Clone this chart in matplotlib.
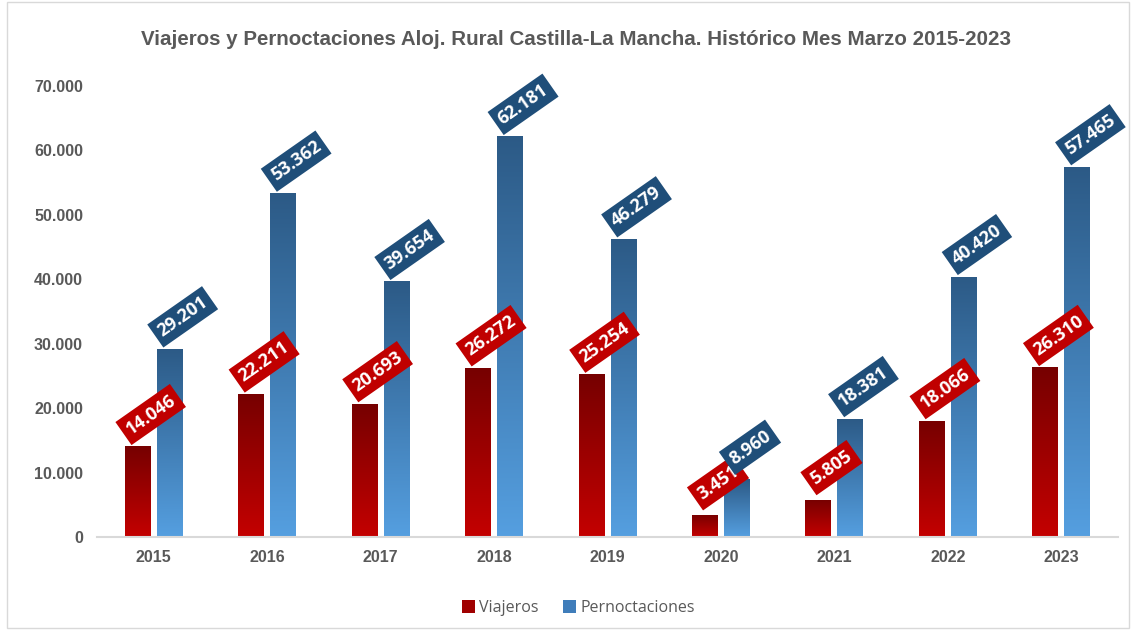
import matplotlib
matplotlib.use("Agg")
import matplotlib.pyplot as plt
import numpy as np
from matplotlib.colors import LinearSegmentedColormap
from matplotlib.patches import Rectangle, Patch

# Datos
anios = ["2015", "2016", "2017", "2018", "2019", "2020", "2021", "2022", "2023"]
viajeros = [14046, 22211, 20693, 26272, 25254, 3451, 5805, 18066, 26310]
pernoctaciones = [29201, 53362, 39654, 62181, 46279, 8960, 18381, 40420, 57465]

titulo = "Viajeros y Pernoctaciones Aloj. Rural Castilla-La Mancha. Histórico Mes Marzo 2015-2023"

gris = "#595959"
rojo_caja = "#C00000"
azul_caja = "#1F4E79"
cmap_rojo = LinearSegmentedColormap.from_list("rojo", ["#C40000", "#760000"])
cmap_azul = LinearSegmentedColormap.from_list("azul", ["#559FE0", "#2C5A86"])

def miles(v):
    return f"{v:,.0f}".replace(",", ".")

fig = plt.figure(figsize=(11.34, 6.3), dpi=100)
ax = fig.add_axes([0.0855, 0.1476, 0.9005, 0.716])

# borde del gráfico
fig.patches.append(Rectangle((0.006, 0.003), 0.99, 0.994, transform=fig.transFigure,
                             fill=False, edgecolor="#D9D9D9", linewidth=1))

x = np.arange(len(anios))
ancho = 0.229
desp = 0.141

grad = np.linspace(0, 1, 256).reshape(-1, 1)

def barras_gradiente(pos, valores, cmap):
    barras = ax.bar(pos, valores, width=ancho, color="none", edgecolor="none", zorder=2)
    for b in barras:
        x0, y0 = b.get_x(), b.get_y()
        im = ax.imshow(grad, extent=[x0, x0 + b.get_width(), y0, y0 + b.get_height()],
                       origin="lower", aspect="auto", cmap=cmap, zorder=2)
        im.set_clip_path(b)
    return barras

b1 = barras_gradiente(x - desp, viajeros, cmap_rojo)
b2 = barras_gradiente(x + desp, pernoctaciones, cmap_azul)

def etiquetas(barras, valores, color):
    for b, v in zip(barras, valores):
        ax.annotate(miles(v), (b.get_x() + b.get_width() / 2, v),
                    xytext=(13, 32), textcoords="offset pixels",
                    ha="center", va="center", rotation=35, rotation_mode="anchor",
                    color="white", fontsize=13, fontweight="bold", family="Open Sans",
                    bbox=dict(boxstyle="square,pad=0.28", fc=color, ec="none"), zorder=5)

etiquetas(b1, viajeros, rojo_caja)
etiquetas(b2, pernoctaciones, azul_caja)

ax.set_xlim(-0.5, 8.5)
ax.set_ylim(0, 70000)
ax.set_xticks(x)
ax.set_xticklabels(anios)
yt = np.arange(0, 70001, 10000)
ax.set_yticks(yt)
ax.set_yticklabels([miles(v) for v in yt])
for lab in ax.get_xticklabels() + ax.get_yticklabels():
    lab.set_fontweight("bold")
    lab.set_color(gris)
    lab.set_fontsize(11.5)
    lab.set_family("Liberation Sans")
ax.tick_params(axis="both", length=0)
ax.tick_params(axis="x", pad=9)
ax.tick_params(axis="y", pad=10)
for s in ["top", "right", "left"]:
    ax.spines[s].set_visible(False)
ax.spines["bottom"].set_color("#D9D9D9")
ax.spines["bottom"].set_linewidth(1.5)
ax.spines["bottom"].set_zorder(3)

fig.text(0.508, 0.938, titulo, ha="center", va="center", fontsize=14.8, fontweight="bold",
         color=gris, family="Liberation Sans")

handles = [Patch(facecolor="#A00000", label="Viajeros"),
           Patch(facecolor="#3F7DBA", label="Pernoctaciones")]
fig.legend(handles=handles, loc="center", bbox_to_anchor=(0.51, 0.035), ncol=2, frameon=False,
           labelcolor=gris, handlelength=0.8, handleheight=0.8,
           handletextpad=0.3, columnspacing=1.5, prop={"family": "Open Sans", "size": 11.5})

fig.savefig("out.png", dpi=100)
